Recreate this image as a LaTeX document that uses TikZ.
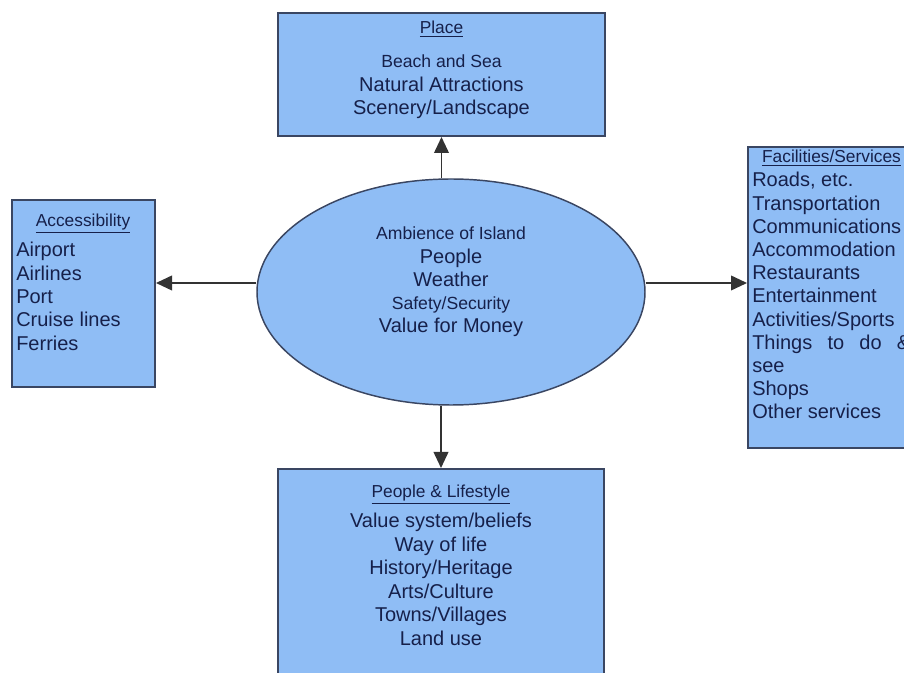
\documentclass[tikz,border=0pt]{standalone}
\usepackage{fontspec}
\setmainfont{Liberation Sans}
\usetikzlibrary{arrows.meta,shapes.geometric}
\definecolor{boxfill}{RGB}{143,189,245}
\definecolor{boxline}{RGB}{58,70,98}
\definecolor{txt}{RGB}{22,32,74}
\begin{document}
\begin{tikzpicture}[x=0.75pt,y=-0.75pt,
  panel/.style={draw=boxline, line width=1.5pt, fill=boxfill, inner sep=0pt},
  big/.style={font=\fontsize{15}{18}\selectfont, text=txt, inner sep=0pt},
  small/.style={font=\fontsize{13.2}{16}\selectfont, text=txt, inner sep=0pt},
  ttl/.style={font=\fontsize{13}{15}\selectfont, text=txt, inner sep=0pt},
  arr/.style={-{Triangle[length=12pt,width=11pt]}, line width=1.3pt, draw=black!80}]
\useasboundingbox (0,0) rectangle (904,673);
\clip (0,0) rectangle (904,673);
\fill[white] (0,0) rectangle (904,673);

% boxes
\node[panel, minimum width=327*0.75pt, minimum height=123*0.75pt] (place) at (441.5,74.5) {};
\node[panel, minimum width=143*0.75pt, minimum height=187*0.75pt] (acc) at (83.5,293.5) {};
\node[panel, minimum width=170*0.75pt, minimum height=301*0.75pt] (fac) at (833,297.5) {};
\node[panel, minimum width=326*0.75pt, minimum height=231*0.75pt] (people) at (441,584.5) {};
\node[ellipse, draw=boxline, line width=1.1pt, fill=boxfill, inner sep=0pt,
      minimum width=388*0.75pt, minimum height=226*0.75pt] (ell) at (451,292) {};

% arrows
\draw[arr] (ell.north -| place.south) -- (place.south);
\draw[arr] (ell.south -| people.north) -- (people.north);
\draw[arr] ([yshift=6.75pt]ell.west) -- ([yshift=6.75pt]ell.west -| acc.east);
\draw[arr] ([yshift=6.75pt]ell.east) -- ([yshift=6.75pt]ell.east -| fac.west);

% Place text
\node[ttl, anchor=base] (pl-t) at (441.5,34) {\underline{Place}};
\node[small, anchor=base] (pl-1) at (441.5,68) {Beach and Sea};
\node[big, anchor=base] (pl-2) at (441.5,92) {Natural Attractions};
\node[big, anchor=base] (pl-3) at (441.5,115) {Scenery/Landscape};

% Ellipse text
\node[small, anchor=base] (el-1) at (451,240) {Ambience of Island};
\node[big, anchor=base] (el-2) at (451,264) {People};
\node[big, anchor=base] (el-3) at (451,287) {Weather};
\node[small, anchor=base] (el-4) at (451,310) {Safety/Security};
\node[big, anchor=base] (el-5) at (451,333) {Value for Money};

% Accessibility text
\node[ttl, anchor=base] (ac-t) at (83,227) {\underline{Accessibility}};
\foreach \t [count=\i] in {Airport,Airlines,Port,Cruise lines,Ferries}
  \node[big, anchor=base west] (ac-\i) at (16,{257+23.3*(\i-1)}) {\t};

% Facilities text
\node[ttl, anchor=base] (fa-t) at (831.5,163) {\underline{Facilities/Services}};
\foreach \t [count=\i] in {{Roads, etc.},Transportation,Communications,Accommodation,Restaurants,Entertainment,Activities/Sports,{\hbox to 118.5pt{Things\hfill to\hfill do\hfill \&}},see,Shops,Other services}
  \node[big, anchor=base west] (fa-\i) at (752,{187+23.2*(\i-1)}) {\t};

% People & Lifestyle text
\node[ttl, anchor=base] (pe-t) at (441,498) {\underline{People \& Lifestyle}};
\foreach \t [count=\i] in {Value system/beliefs,Way of life,History/Heritage,Arts/Culture,Towns/Villages,Land use}
  \node[big, anchor=base] (pe-\i) at (441,{528+23.4*(\i-1)}) {\t};
\end{tikzpicture}
\end{document}
